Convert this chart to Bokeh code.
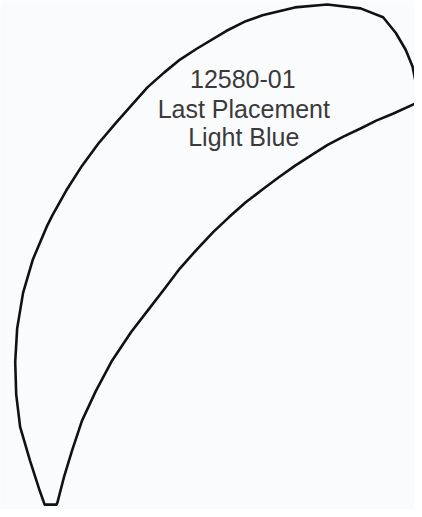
from bokeh.plotting import figure
from bokeh.models import Range1d
from bokeh.core.properties import value
from bokeh.embed import file_html
from bokeh.resources import INLINE

# Outline of the crescent (image pixel coordinates, y downward)
outer_x = [45, 40, 30, 20, 16, 15, 17, 23, 33, 47, 53, 67, 83, 100, 117, 133, 150, 167, 183, 200, 230,
           250, 267, 300, 333, 367, 390, 403, 413, 420, 424, 427]
outer_y = [512, 498, 467, 433, 400, 367, 333, 297, 263, 230, 218, 193, 168, 145, 125, 107, 88, 73, 60, 49, 31,
           21, 15, 7, 4, 8, 17, 33, 50, 67, 87, 103]
inner_x = [427, 422, 400, 383, 367, 350, 333, 317, 300, 283, 267, 250, 233, 217, 200, 183, 167, 150, 133,
           113, 97, 83, 73, 65, 58, 57]
inner_y = [103, 105, 115, 122, 130, 138, 147, 157, 168, 180, 192, 205, 220, 235, 253, 272, 293, 315, 337,
           367, 397, 427, 457, 483, 510, 512]

labels = ["12580-01", "Last Placement", "Light Blue"]
label_x = [247, 248, 248]
label_y = [80, 110, 139]

xs = outer_x + inner_x
ys = outer_y + inner_y

bg = "#fafbfd"
p = figure(width=414, height=509, output_backend="svg", toolbar_location=None,
           x_range=Range1d(0, 422), y_range=Range1d(517, 0),
           min_border=0, background_fill_color=bg, border_fill_color=bg)
p.axis.visible = False
p.grid.visible = False
p.outline_line_color = None

p.patch(xs, ys, fill_alpha=0, line_color="#111111", line_width=2.6, line_join="round")
p.text(x=label_x, y=label_y, text=labels, text_align="center", text_baseline="alphabetic",
       text_font=value("Liberation Sans"), text_font_size="25px", text_color="#3a3a3a")

open("out.html", "w").write(file_html(p, INLINE))
